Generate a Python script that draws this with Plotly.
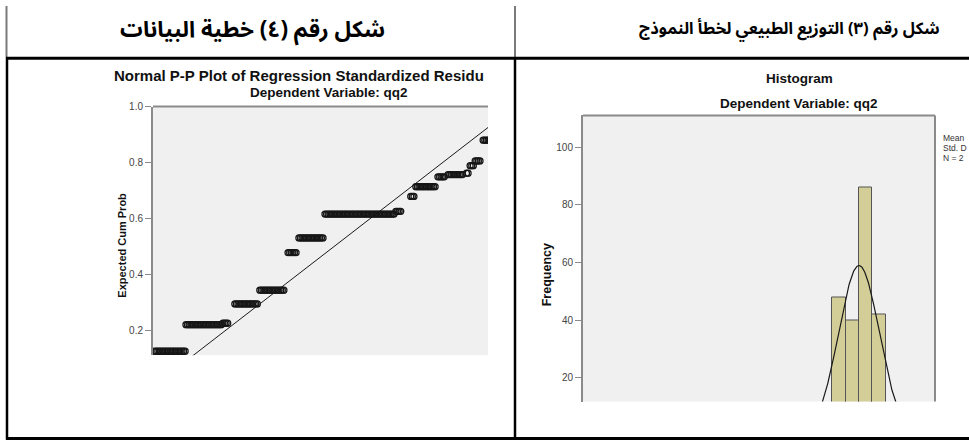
import numpy as np
import plotly.graph_objects as go

W, H = 969, 441

# ---- Normal P-P plot data (groups of tied standardized residuals) ----
# expected cumulative probability of each tied group
pp_expected = [0.126, 0.221, 0.226, 0.295, 0.344, 0.478, 0.531, 0.616, 0.626,
               0.679, 0.714, 0.749, 0.757, 0.762, 0.789, 0.806, 0.880]
# observed cumulative probability of the first case in each group
pp_observed_first = [0.0044, 0.091, 0.193, 0.226, 0.295, 0.373, 0.403, 0.475, 0.671,
                     0.712, 0.726, 0.787, 0.815, 0.866, 0.876, 0.890, 0.912]
# number of cases in each group
pp_counts = [20, 23, 4, 15, 16, 6, 16, 44, 4, 3, 13, 5, 10, 2, 3, 4, 8]
n_cases = 224
pp_ticks = [0.2, 0.4, 0.6, 0.8, 1.0]

# ---- Histogram of standardized residuals ----
bin_width = 0.653
hist_centers = [-12.73, -1.6325, -0.9795, -0.3265, 0.3265, 0.9795, 1.6325]
hist_counts = [1, 3, 48, 40, 86, 42, 4]
resid_mean = 0.0
resid_std = 0.99
hist_ticks = [20, 40, 60, 80, 100]

# ---- headings ----
head_left = "شكل رقم (٤) خطية البيانات"
head_right = "شكل رقم (٣) التوزيع الطبيعي لخطأ النموذج"


def px(x):
    return x / W


def py(y):
    return 1 - y / H


step = 1.0 / (n_cases + 1)
obs_x, exp_y = [], []
for e, first, c in zip(pp_expected, pp_observed_first, pp_counts):
    for k in range(c):
        obs_x.append(first + k * step)
        exp_y.append(e)

fig = go.Figure()

# reference diagonal
fig.add_trace(go.Scatter(x=[0, 1], y=[0, 1], mode="lines",
                         line=dict(color="#1a1a1a", width=1),
                         xaxis="x", yaxis="y", showlegend=False, hoverinfo="skip"))
fig.add_trace(go.Scatter(x=obs_x, y=exp_y, mode="markers",
                         marker=dict(symbol="circle-open", size=6,
                                     color="#161616", line=dict(width=1.3)),
                         xaxis="x", yaxis="y", showlegend=False))

# histogram bars
fig.add_trace(go.Bar(x=hist_centers, y=hist_counts, width=bin_width,
                     marker=dict(color="#d3ce97", line=dict(color="#555555", width=1)),
                     xaxis="x2", yaxis="y2", showlegend=False))

# fitted normal curve
xs = np.linspace(-4, 4, 400)
ys = n_cases * bin_width * np.exp(-0.5 * ((xs - resid_mean) / resid_std) ** 2) / (
    resid_std * np.sqrt(2 * np.pi))
fig.add_trace(go.Scatter(x=xs, y=ys, mode="lines",
                         line=dict(color="#1a1a1a", width=1.2),
                         xaxis="x2", yaxis="y2", showlegend=False, hoverinfo="skip"))

tick_font = dict(family="Liberation Sans, Arial", size=10, color="#444444")
axis_gray = "#8a8a8a"

# P-P plot frame: 1.0 at y=102, 0.2 at y=329 ; x: 0 at 153, 362 px per unit
y_per_px = 0.8 / (329 - 102)
pp_ymin = 1.0 - (354 - 102) * y_per_px
pp_xmax = (488 - 153) / 362.0

# histogram frame: 0 at y=435.5, 2.925 px per count ; 0 at x=859
h_ymin = (435.5 - 401) / 2.925
h_ymax = (435.5 - 111) / 2.925
upx = bin_width / 13.4
h_xmin = -(859 - 583) * upx
h_xmax = (935 - 859) * upx

fig.update_layout(
    width=W, height=H,
    margin=dict(l=0, r=0, t=0, b=0),
    paper_bgcolor="white",
    plot_bgcolor="#f0f0f0",
    bargap=0,
    xaxis=dict(domain=[px(153), px(488)], range=[0, pp_xmax], visible=False),
    yaxis=dict(domain=[py(354), py(102)], range=[pp_ymin, 1.0],
               tickvals=pp_ticks, ticktext=[f"{v:.1f}" for v in pp_ticks],
               ticks="outside", ticklen=6, tickwidth=1, tickcolor=axis_gray,
               showline=True, linecolor=axis_gray, linewidth=2,
               showgrid=False, zeroline=False, tickfont=tick_font),
    xaxis2=dict(domain=[px(583), px(935)], range=[h_xmin, h_xmax], visible=False),
    yaxis2=dict(domain=[py(401), py(111)], range=[h_ymin, h_ymax], anchor="x2",
                tickvals=hist_ticks, ticktext=[str(v) for v in hist_ticks],
                ticks="outside", ticklen=6, tickwidth=1, tickcolor=axis_gray,
                showline=True, linecolor=axis_gray, linewidth=2,
                showgrid=False, zeroline=False, tickfont=tick_font),
)

shapes = []


def line(x0, y0, x1, y1, color, width):
    shapes.append(dict(type="line", xref="paper", yref="paper",
                       x0=px(x0), y0=py(y0), x1=px(x1), y1=py(y1),
                       line=dict(color=color, width=width)))


# chart frames
line(153, 102, 488, 102, axis_gray, 2)
line(583, 111, 935, 111, axis_gray, 2)
line(935, 111, 935, 401, axis_gray, 2)

# table rules
line(6.5, 0, 6.5, 52, "#7a7a7a", 2)
line(515, 0, 515, 52, "#7a7a7a", 2)
line(7, 52, 7, 439.5, "black", 2.5)
line(515, 52, 515, 439.5, "black", 2.5)
line(6, 53, W, 53, "black", 3)
line(6, 438.5, W, 438.5, "black", 3)

fig.update_layout(shapes=shapes)

ann = []


def text(x, y, s, size, bold=True, family="Liberation Sans, Arial", color="#111111",
         xanchor="center", angle=0):
    ann.append(dict(x=px(x), y=py(y), xref="paper", yref="paper", text=(f"<b>{s}</b>" if bold else s),
                    showarrow=False, xanchor=xanchor, yanchor="middle", textangle=angle,
                    font=dict(family=family, size=size, color=color)))


arabic_font = "Noto Sans Arabic, Noto Naskh Arabic, DejaVu Sans"
text(252, 24, head_left, 22.5, family=arabic_font, color="black")
text(789, 23, head_right, 16.5, family=arabic_font, color="black")

text(112, 70, "Normal P-P Plot of Regression Standardized Residu", 15, xanchor="left")
text(329, 88, "Dependent Variable: qq2", 13.5)
text(122, 243, "Expected Cum Prob", 11, angle=-90)

text(799, 73, "Histogram", 13.5)
text(799, 99, "Dependent Variable: qq2", 13.5)
text(547, 273, "Frequency", 12.5, angle=-90)

text(941, 134, "Mean", 8.5, bold=False, color="#333333", xanchor="left")
text(941, 144, "Std. D", 8.5, bold=False, color="#333333", xanchor="left")
text(941, 154, "N = 2", 8.5, bold=False, color="#333333", xanchor="left")

fig.update_layout(annotations=ann)

fig.write_html("out.html")
